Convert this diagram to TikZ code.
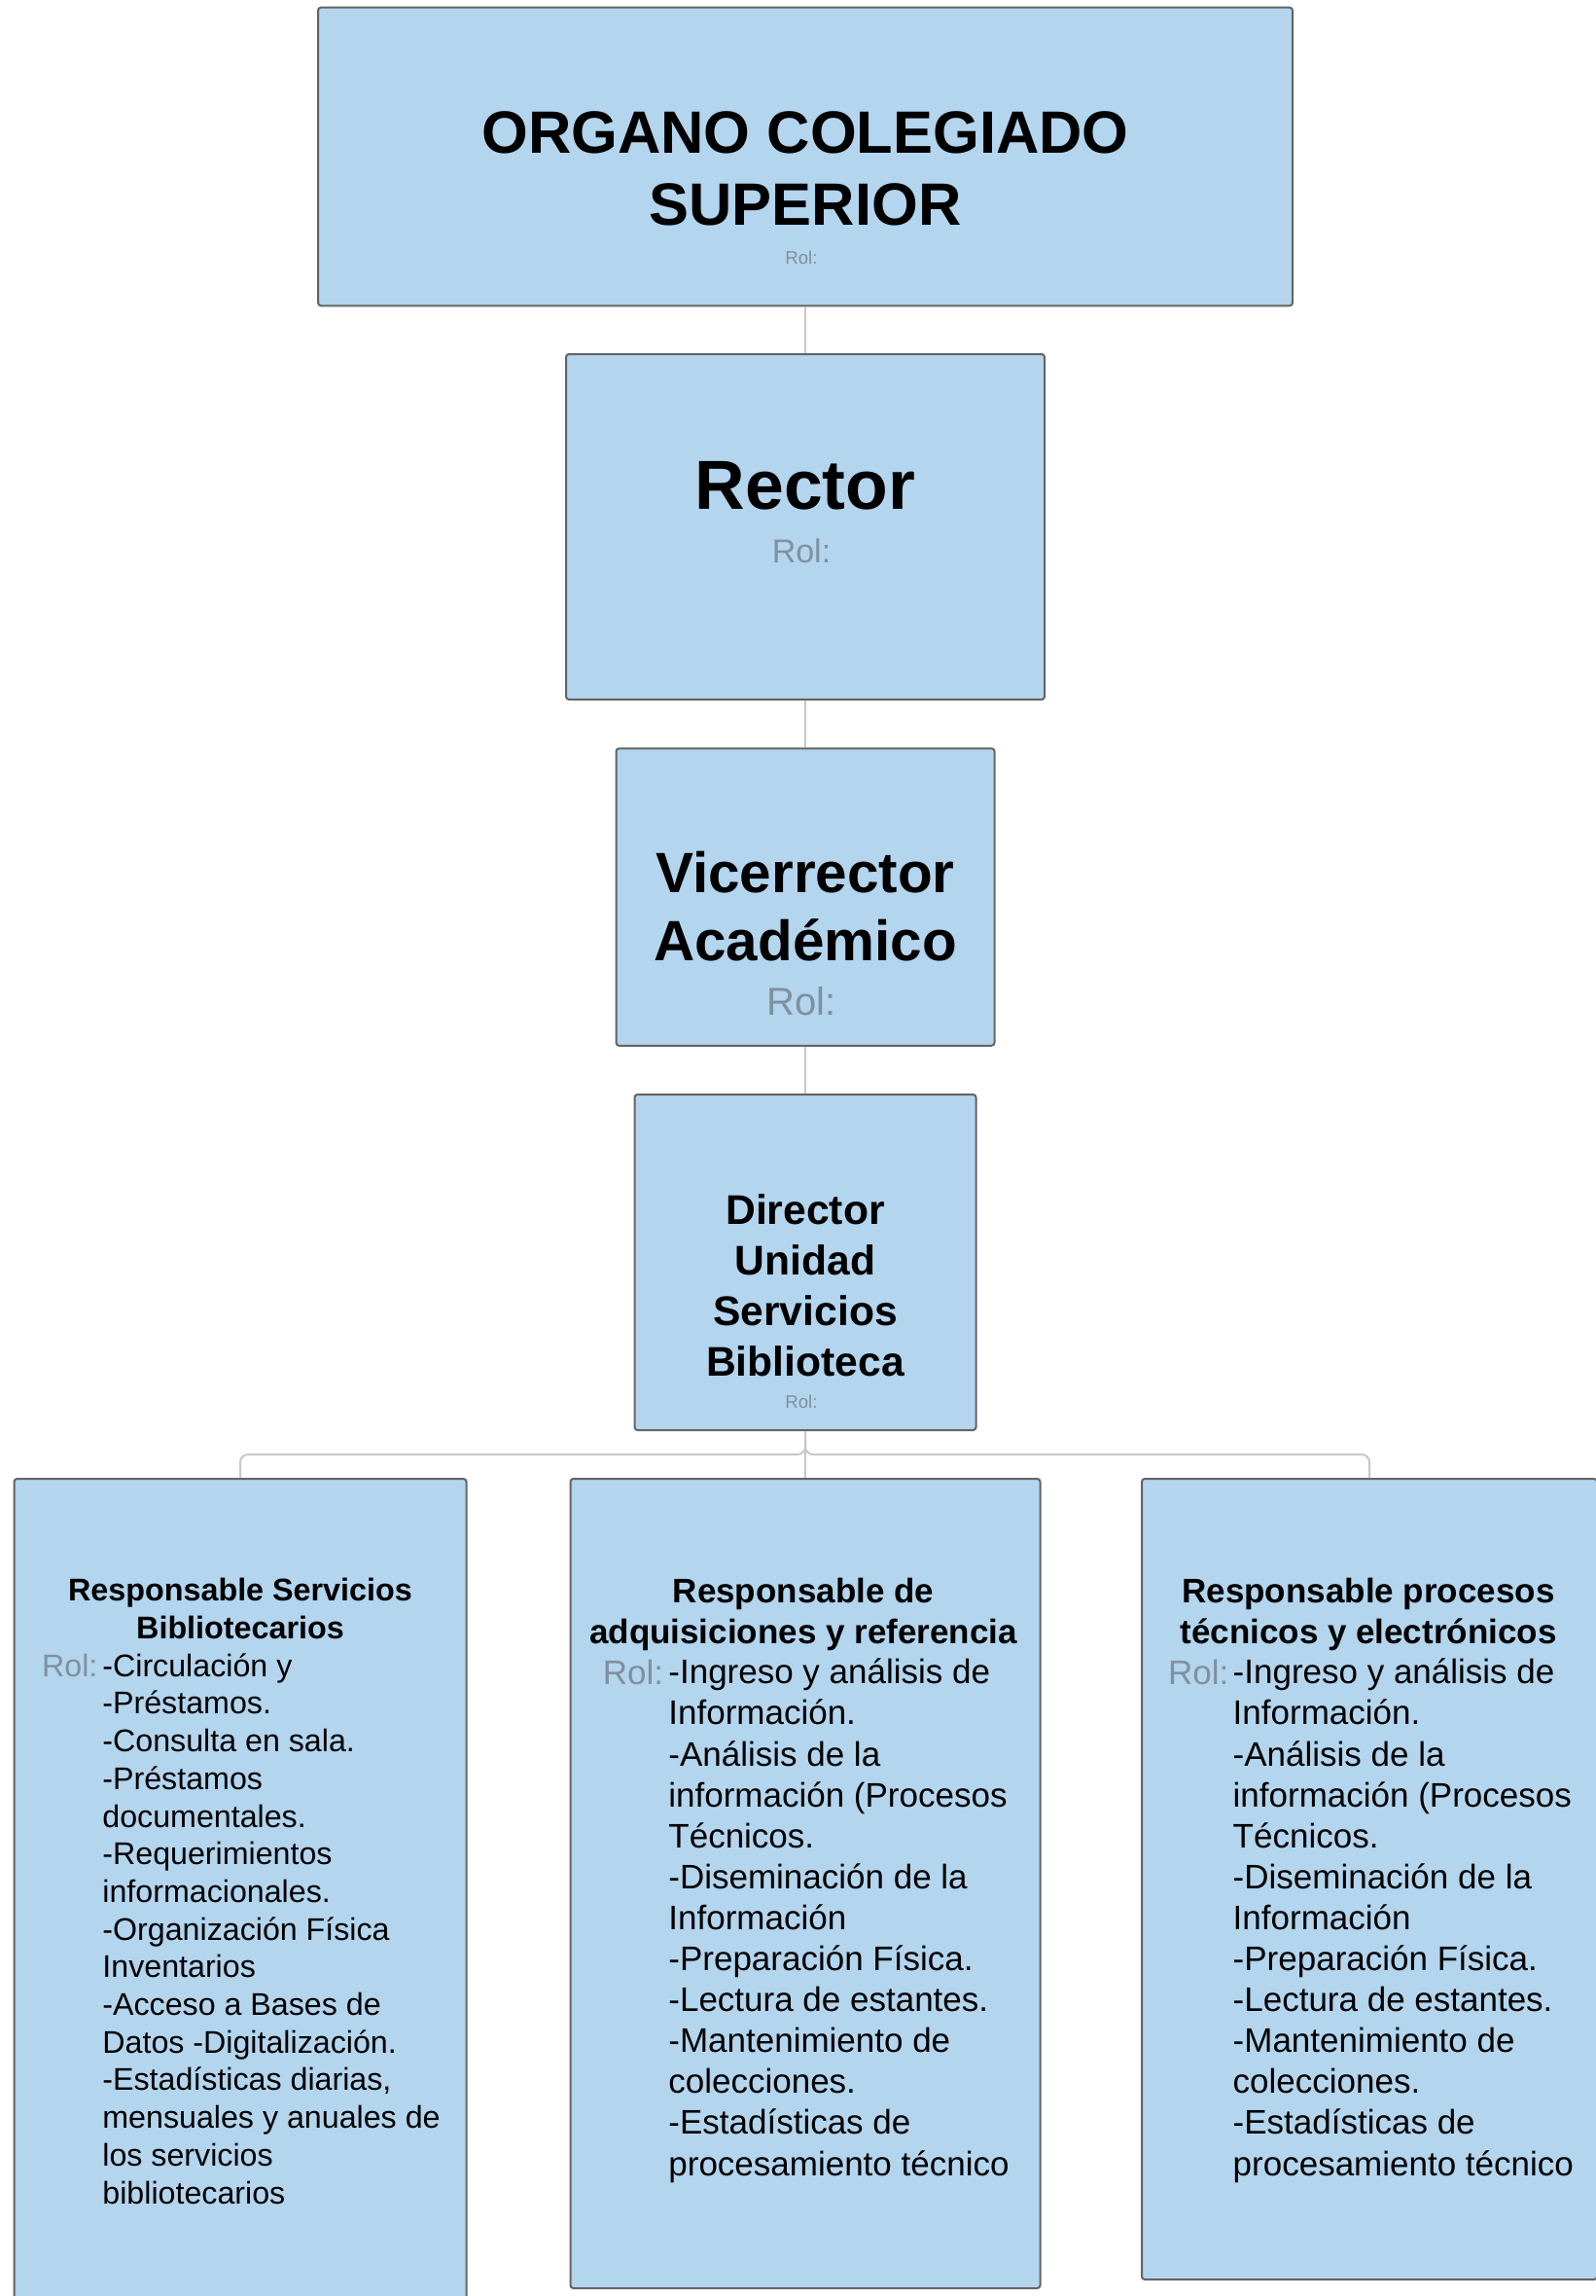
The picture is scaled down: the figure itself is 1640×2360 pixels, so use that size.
\documentclass[tikz,border=0pt]{standalone}
\usepackage{fontspec}
\setmainfont{Liberation Sans}
\usepackage{tikz}
\usepackage{xcolor}

\definecolor{boxfill}{RGB}{179,213,238}
\definecolor{boxline}{RGB}{100,100,100}
\definecolor{connline}{RGB}{200,200,200}
\definecolor{rolgray}{RGB}{128,144,158}

\newcommand{\fs}[2]{\fontsize{#1}{#2}\selectfont}

\tikzset{
    orgbox/.style={draw=boxline, fill=boxfill, line width=1pt, rounded corners=1.5pt, inner sep=0pt},
    conn/.style={draw=connline, line width=1pt, rounded corners=4pt},
    txt/.style={anchor=base, inner sep=0pt, align=center},
    rol/.style={anchor=base, inner sep=0pt, text=rolgray},
    body/.style={anchor=base west, inner sep=0pt, align=left}
}

\begin{document}
\begin{tikzpicture}[x=0.5pt, y=-0.5pt]
    \useasboundingbox (0,0) rectangle (1640,2360);

    % Boxes
    \node[orgbox, minimum width=501pt, minimum height=153.25pt] (organo) at (828,161) {};
    \node[orgbox, minimum width=246pt, minimum height=177.5pt] (rector) at (828,541.5) {};
    \node[orgbox, minimum width=194.5pt, minimum height=152.75pt] (vice) at (828,922) {};
    \node[orgbox, minimum width=175.5pt, minimum height=172.5pt] (director) at (828,1297.5) {};
    \node[orgbox, minimum width=232.5pt, minimum height=430pt] (servicios) at (247,1950) {};
    \node[orgbox, minimum width=241.5pt, minimum height=416pt] (adquis) at (828,1936) {};
    \node[orgbox, minimum width=234pt, minimum height=411.5pt] (procesos) at (1408,1931.5) {};

    % Lines
    \draw[conn] (organo) -- (rector);
    \draw[conn] (rector) -- (vice);
    \draw[conn] (vice) -- (director);
    \draw[conn] (director.south) -- ++(0,24) -| (servicios.north);
    \draw[conn] (director.south) -- ++(0,24) -| (procesos.north);
    \draw[conn] (director.south) -- (adquis.north);

    % Titles (base = last line)
    \node[txt, font=\fs{30.7}{37}\bfseries] (organo-t) at (828,232) {ORGANO COLEGIADO\\SUPERIOR};
    \node[rol, font=\fs{9.3}{11}] (organo-r) at (824,271) {Rol:};
    \node[txt, font=\fs{35.7}{42}\bfseries] (rector-t) at (828,523) {Rector};
    \node[rol, font=\fs{17}{20}] (rector-r) at (824,578.5) {Rol:};
    \node[txt, font=\fs{29.2}{35}\bfseries] (vice-t) at (828,987) {Vicerrector\\Académico};
    \node[rol, font=\fs{20}{24}] (vice-r) at (824,1043) {Rol:};
    \node[txt, font=\fs{21.3}{25.85}\bfseries] (director-t) at (828,1414) {Director\\Unidad\\Servicios\\Biblioteca};
    \node[rol, font=\fs{9.3}{11}] (director-r) at (824,1447) {Rol:};

    % Bottom row
    \node[txt, font=\fs{16.15}{19.35}\bfseries] (servicios-t) at (247,1684.3) {Responsable Servicios\\Bibliotecarios};
    \node[rol, anchor=base west, font=\fs{16.1}{19.35}] (servicios-r) at (42.7,1723.3) {Rol:};
    \node[body, font=\fs{16.1}{19.35}] (servicios-b) at (105,2265) {-Circulación y\\-Préstamos.\\-Consulta en sala.\\-Préstamos\\documentales.\\-Requerimientos\\informacionales.\\-Organización Física\\Inventarios\\-Acceso a Bases de\\Datos -Digitalización.\\-Estadísticas diarias,\\mensuales y anuales de\\los servicios\\bibliotecarios};

    \node[txt, font=\fs{17.5}{21}\bfseries] (adquis-t) at (826,1689.2) {Responsable de\\adquisiciones y referencia};
    \node[rol, anchor=base west, font=\fs{17.5}{21.05}] (adquis-r) at (619.4,1731.3) {Rol:};
    \node[body, font=\fs{17.5}{21.05}] (adquis-b) at (687,2236) {-Ingreso y análisis de\\Información.\\-Análisis de la\\información (Procesos\\Técnicos.\\-Diseminación de la\\Información\\-Preparación Física.\\-Lectura de estantes.\\-Mantenimiento de\\colecciones.\\-Estadísticas de\\procesamiento técnico};

    \node[txt, font=\fs{17.5}{21}\bfseries] (procesos-t) at (1407,1689.2) {Responsable procesos\\técnicos y electrónicos};
    \node[rol, anchor=base west, font=\fs{17.5}{21.05}] (procesos-r) at (1200.7,1731.3) {Rol:};
    \node[body, font=\fs{17.5}{21.05}] (procesos-b) at (1267.3,2236) {-Ingreso y análisis de\\Información.\\-Análisis de la\\información (Procesos\\Técnicos.\\-Diseminación de la\\Información\\-Preparación Física.\\-Lectura de estantes.\\-Mantenimiento de\\colecciones.\\-Estadísticas de\\procesamiento técnico};
\end{tikzpicture}
\end{document}
